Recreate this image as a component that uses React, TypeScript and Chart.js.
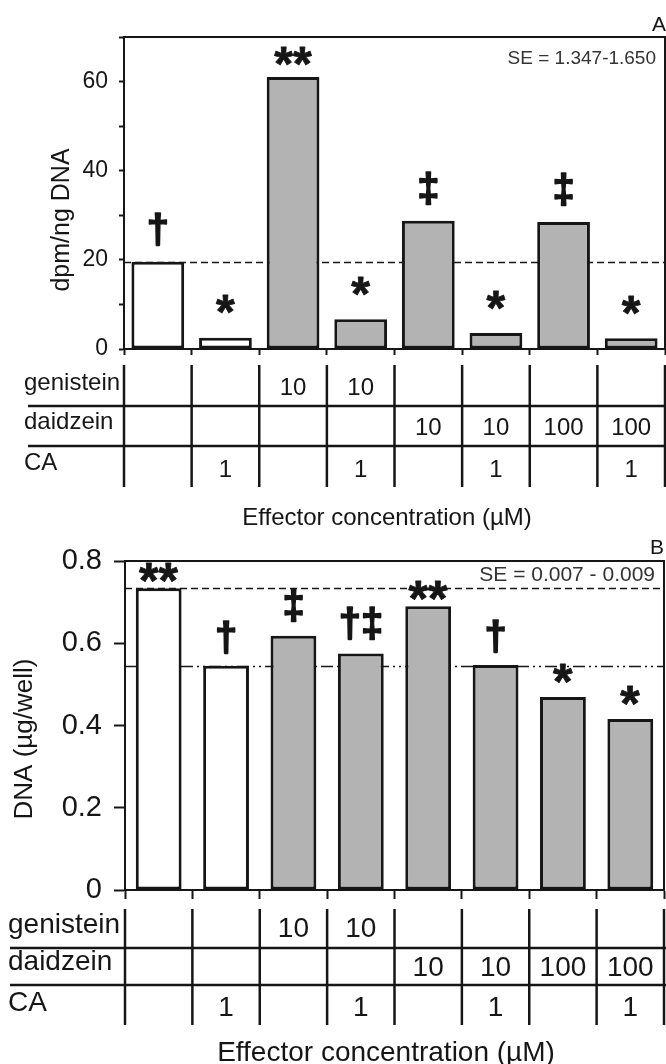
import React, { useEffect, useRef } from 'react';
import { Chart, registerables } from 'chart.js';

Chart.register(...registerables);

// ---------------- data ----------------
const categories = ['control', 'CA', 'G10', 'G10+CA', 'D10', 'D10+CA', 'D100', 'D100+CA'];
const openBars = [true, true, false, false, false, false, false, false];

const dpmValues = [19.6, 2.5, 61.0, 6.7, 28.8, 3.6, 28.5, 2.4];
const dpmMarks = ['†', '*', '**', '*', '‡', '*', '‡', '*'];
const dpmTickValues = [0, 10, 20, 30, 40, 50, 60, 70];
const dpmTickLabels = [0, 20, 40, 60];
const dpmRefLine = 19.6;
const dpmSE = 'SE = 1.347-1.650';

const dnaValues = [0.734, 0.545, 0.618, 0.575, 0.69, 0.547, 0.469, 0.416];
const dnaMarks = ['**', '†', '‡', '†‡', '**', '†', '*', '*'];
const dnaTickValues = [0, 0.2, 0.4, 0.6, 0.8];
const dnaRefDashed = 0.734;
const dnaRefDashDot = 0.545;
const dnaSE = 'SE = 0.007 - 0.009';

const rowNames = ['genistein', 'daidzein', 'CA'];
const genisteinRow = ['', '', '10', '10', '', '', '', ''];
const daidzeinRow = ['', '', '', '', '10', '10', '100', '100'];
const caRow = ['', '1', '', '1', '', '1', '', '1'];

const xTitle = 'Effector concentration (µM)';

// ---------------- styles ----------------
const FONT = "'Liberation Sans', Arial, Helvetica, sans-serif";
const INK = '#161616';
const GRAY = '#b3b3b3';
const W = 666;

function drawInk(ctx: CanvasRenderingContext2D, text: string, cx: number, bottom: number, font: string, thicken: number) {
  ctx.font = font;
  ctx.textAlign = 'left';
  ctx.textBaseline = 'alphabetic';
  const m = ctx.measureText(text);
  const w = m.actualBoundingBoxLeft + m.actualBoundingBoxRight;
  const x = cx - w / 2 + m.actualBoundingBoxLeft;
  const y = bottom - m.actualBoundingBoxDescent - thicken / 2;
  ctx.fillText(text, x, y);
  if (thicken > 0) {
    ctx.lineWidth = thicken;
    ctx.lineJoin = 'round';
    ctx.strokeText(text, x, y);
  }
}

type Panel = {
  height: number;
  top: number;
  left: number;
  right: number;
  bottom: number;
  values: number[];
  marks: string[];
  yMax: number;
  tickValues: number[];
  label: (v: number) => string;
  tickFont: number;
  tickLen: number;
  tickPad: number;
  xTickLen: number;
  barPct: number;
  yTitle: string;
  yTitleX: number;
  yTitleY: number;
  yTitleFont: number;
  se: string;
  seRight: number;
  seY: number;
  seFont: number;
  letter: string;
  letterX: number;
  letterY: number;
  letterFont: number;
  refLines: { value: number; dash: number[] }[];
  vTop: number;
  vBottom: number;
  hLines: number[];
  hLeft: number;
  labelX: number;
  labelYs: number[];
  valueYs: number[];
  tableFont: number;
  xTitleX: number;
  xTitleY: number;
  xTitleFont: number;
  starFont: number;
  daggerFont: number;
  gaps: Record<string, number>;
};

const panelA: Panel = {
  height: 540,
  top: 37,
  left: 124,
  right: 665,
  bottom: 349,
  values: dpmValues,
  marks: dpmMarks,
  yMax: 70,
  tickValues: dpmTickValues,
  label: (v) => (dpmTickLabels.includes(v) ? String(v) : ''),
  tickFont: 23,
  tickLen: 5,
  tickPad: 11,
  xTickLen: 6,
  barPct: 0.78,
  yTitle: 'dpm/ng DNA',
  yTitleX: 62,
  yTitleY: 220,
  yTitleFont: 25,
  se: dpmSE,
  seRight: 656,
  seY: 59,
  seFont: 19,
  letter: 'A',
  letterX: 652,
  letterY: 25,
  letterFont: 21,
  refLines: [{ value: dpmRefLine, dash: [7, 4] }],
  vTop: 365,
  vBottom: 487,
  hLines: [406, 446],
  hLeft: 28,
  labelX: 24,
  labelYs: [383, 422, 463],
  valueYs: [388, 428, 470],
  tableFont: 24,
  xTitleX: 387,
  xTitleY: 518,
  xTitleFont: 24,
  starFont: 48,
  daggerFont: 40,
  gaps: { '*': 24, '**': 12, '†': 15, '‡': 15, '†‡': 15 },
};

const panelB: Panel = {
  height: 524,
  top: 21,
  left: 125,
  right: 664,
  bottom: 350,
  values: dnaValues,
  marks: dnaMarks,
  yMax: 0.8,
  tickValues: dnaTickValues,
  label: (v) => (v === 0 ? '0' : v.toFixed(1)),
  tickFont: 29,
  tickLen: 11,
  tickPad: 12,
  xTickLen: 9,
  barPct: 0.68,
  yTitle: 'DNA (µg/well)',
  yTitleX: 25,
  yTitleY: 199,
  yTitleFont: 26,
  se: dnaSE,
  seRight: 655,
  seY: 35,
  seFont: 21,
  letter: 'B',
  letterX: 650,
  letterY: 8,
  letterFont: 21,
  refLines: [
    { value: dnaRefDashed, dash: [7, 4] },
    { value: dnaRefDashDot, dash: [12, 4, 2, 4, 2, 4] },
  ],
  vTop: 369,
  vBottom: 485,
  hLines: [408, 445],
  hLeft: 10,
  labelX: 8,
  labelYs: [385, 422, 463],
  valueYs: [389, 428, 468],
  tableFont: 28,
  xTitleX: 386,
  xTitleY: 513,
  xTitleFont: 28,
  starFont: 50,
  daggerFont: 40,
  gaps: { '*': 14, '**': 6, '†': 11, '‡': 13, '†‡': 13 },
};

function makePlugin(p: Panel) {
  return {
    id: 'panelDecor' + p.letter,
    beforeDatasetsDraw(chart: any) {
      const { ctx, chartArea: a, scales } = chart;
      const y = scales.y;
      ctx.save();
      ctx.strokeStyle = INK;
      ctx.lineWidth = 1.5;
      for (const r of p.refLines) {
        const py = Math.round(y.getPixelForValue(r.value)) + 0.5;
        ctx.setLineDash(r.dash);
        ctx.beginPath();
        ctx.moveTo(a.left, py);
        ctx.lineTo(a.right, py);
        ctx.stroke();
      }
      ctx.restore();
    },
    afterDraw(chart: any) {
      const { ctx, chartArea: a, scales } = chart;
      const x = scales.x;
      ctx.save();
      ctx.setLineDash([]);
      ctx.strokeStyle = INK;
      ctx.fillStyle = INK;

      // frame: top and right
      ctx.lineWidth = 2;
      ctx.beginPath();
      ctx.moveTo(a.left - 1, a.top);
      ctx.lineTo(a.right, a.top);
      ctx.lineTo(a.right, a.bottom);
      ctx.stroke();

      // SE text
      ctx.font = `${p.seFont}px ${FONT}`;
      ctx.fillStyle = '#333';
      ctx.textAlign = 'right';
      ctx.textBaseline = 'middle';
      ctx.fillText(p.se, p.seRight, p.seY);

      // panel letter
      ctx.fillStyle = INK;
      ctx.font = `${p.letterFont}px ${FONT}`;
      ctx.textAlign = 'left';
      ctx.fillText(p.letter, p.letterX, p.letterY);

      // y title
      ctx.save();
      ctx.translate(p.yTitleX, p.yTitleY);
      ctx.rotate(-Math.PI / 2);
      ctx.font = `${p.yTitleFont}px ${FONT}`;
      ctx.textAlign = 'center';
      ctx.textBaseline = 'middle';
      ctx.fillText(p.yTitle, 0, 0);
      ctx.restore();

      // significance marks
      const meta = chart.getDatasetMeta(0);
      ctx.strokeStyle = INK;
      meta.data.forEach((bar: any, i: number) => {
        const mk = p.marks[i];
        if (!mk) return;
        const isStar = mk.includes('*');
        const font = `bold ${isStar ? p.starFont : p.daggerFont}px ${FONT}`;
        const gap = p.gaps[mk] ?? 12;
        drawInk(ctx, mk, bar.x, bar.y - gap, font, isStar ? 0.8 : 1.6);
      });

      // table
      const n = categories.length;
      const centers = categories.map((_, i) => x.getPixelForValue(i));
      const bounds: number[] = [a.left];
      for (let i = 1; i < n; i++) bounds.push((centers[i - 1] + centers[i]) / 2);
      bounds.push(a.right);

      ctx.lineWidth = 2.5;
      ctx.strokeStyle = INK;
      for (const bx of bounds) {
        ctx.beginPath();
        ctx.moveTo(bx, p.vTop);
        ctx.lineTo(bx, p.vBottom);
        ctx.stroke();
      }
      for (const hy of p.hLines) {
        ctx.beginPath();
        ctx.moveTo(p.hLeft, hy);
        ctx.lineTo(W, hy);
        ctx.stroke();
      }
      ctx.font = `${p.tableFont}px ${FONT}`;
      ctx.fillStyle = INK;
      ctx.textBaseline = 'middle';
      ctx.textAlign = 'left';
      rowNames.forEach((nm, r) => ctx.fillText(nm, p.labelX, p.labelYs[r]));
      ctx.textAlign = 'center';
      const rows = [genisteinRow, daidzeinRow, caRow];
      rows.forEach((row, r) => {
        row.forEach((v, i) => {
          if (v) ctx.fillText(v, centers[i], p.valueYs[r]);
        });
      });

      // x title
      ctx.font = `${p.xTitleFont}px ${FONT}`;
      ctx.textAlign = 'center';
      ctx.fillText(xTitle, p.xTitleX, p.xTitleY);

      ctx.restore();
    },
  };
}

function PanelChart({ p }: { p: Panel }) {
  const ref = useRef<HTMLCanvasElement>(null);
  useEffect(() => {
    if (!ref.current) return;
    const xH = p.xTickLen + 2;
    const chart = new Chart(ref.current, {
      type: 'bar',
      data: {
        labels: categories,
        datasets: [
          {
            data: p.values,
            backgroundColor: openBars.map((o) => (o ? '#ffffff' : GRAY)),
            borderColor: INK,
            borderWidth: 3,
            borderSkipped: false,
            barPercentage: p.barPct,
            categoryPercentage: 1,
          },
        ],
      },
      options: {
        responsive: false,
        animation: false,
        devicePixelRatio: 1,
        events: [],
        layout: {
          autoPadding: false,
          padding: { top: p.top, left: 0, right: W - p.right, bottom: p.height - p.bottom - xH },
        },
        plugins: { legend: { display: false }, tooltip: { enabled: false }, title: { display: false } },
        scales: {
          x: {
            type: 'category',
            offset: true,
            grid: {
              offset: true,
              drawOnChartArea: false,
              drawTicks: true,
              tickLength: p.xTickLen,
              tickColor: INK,
              tickWidth: 2,
            },
            border: { display: true, color: INK, width: 2 },
            ticks: { display: false },
            afterFit: (s: any) => {
              s.height = xH;
            },
          },
          y: {
            type: 'linear',
            min: 0,
            max: p.yMax,
            afterBuildTicks: (s: any) => {
              s.ticks = p.tickValues.map((v) => ({ value: v }));
            },
            ticks: {
              callback: (v: any) => p.label(Number(v)),
              font: { family: FONT, size: p.tickFont, lineHeight: 0.5 },
              color: INK,
              padding: p.tickPad,
              autoSkip: false,
            },
            grid: {
              drawOnChartArea: false,
              drawTicks: true,
              tickLength: p.tickLen,
              tickColor: INK,
              tickWidth: 2,
            },
            border: { display: true, color: INK, width: 2 },
            afterFit: (s: any) => {
              s.width = p.left;
              s.paddingTop = 0;
              s.paddingBottom = 0;
            },
          },
        },
      },
      plugins: [makePlugin(p)],
    } as any);
    return () => chart.destroy();
  }, [p]);
  return <canvas ref={ref} width={W} height={p.height} style={{ display: 'block', width: W, height: p.height }} />;
}

export default function App() {
  useEffect(() => {
    document.body.style.margin = '0';
    document.body.style.background = '#ffffff';
  }, []);
  return (
    <div style={{ width: W, background: '#fff' }}>
      <PanelChart p={panelA} />
      <PanelChart p={panelB} />
    </div>
  );
}
